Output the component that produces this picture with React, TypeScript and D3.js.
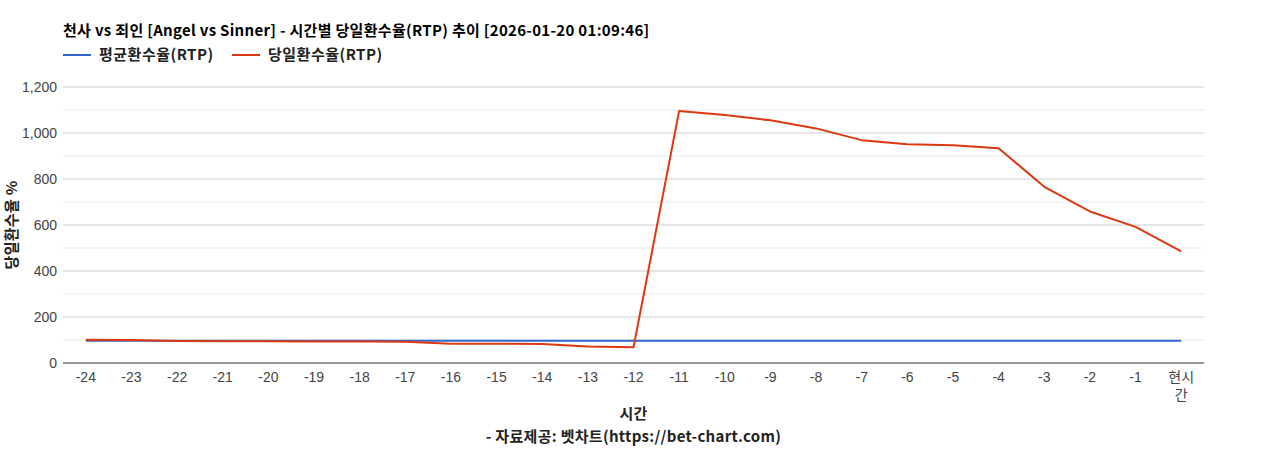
import * as d3 from "d3";

const hours = ["-24", "-23", "-22", "-21", "-20", "-19", "-18", "-17", "-16", "-15", "-14", "-13", "-12", "-11", "-10", "-9", "-8", "-7", "-6", "-5", "-4", "-3", "-2", "-1", "현시간"];
const avgRtp = [97, 97, 97, 97, 97, 97, 97, 97, 97, 97, 97, 97, 97, 97, 97, 97, 97, 97, 97, 97, 97, 97, 97, 97, 97];
const dayRtp = [101, 100, 96, 95, 95, 94, 94, 92, 84, 84, 83, 72, 68, 1096, 1078, 1055, 1020, 969, 951, 947, 934, 766, 659, 592, 485];
const yTicks = [0, 200, 400, 600, 800, 1000, 1200];
const minorTicks = [100, 300, 500, 700, 900, 1100];

const title = "천사 vs 죄인 [Angel vs Sinner] - 시간별 당일환수율(RTP) 추이 [2026-01-20 01:09:46]";
const seriesNames = ["평균환수율(RTP)", "당일환수율(RTP)"];
const colors = ["#3366cc", "#dc3912"];

const W = 1268;
const H = 450;
const left = 63;
const right = 1204;
const top = 87;
const bottom = 363;

const uiFont = "'Noto Sans CJK KR', 'Noto Sans', sans-serif";
const tickFont = "'Liberation Sans', Arial, 'Noto Sans CJK KR', sans-serif";

// wrap non-numeric labels into 2-char lines (like the original)
const wrapLabel = (s: string) => (isNaN(Number(s)) && s.length > 2 ? [s.slice(0, 2), s.slice(2)] : [s]);

export default function App() {
  const x = d3.scalePoint<string>().domain(hours).range([left, right]).padding(0.5);
  const y = d3.scaleLinear().domain([0, 1200]).range([bottom, top]);

  const line = d3
    .line<number>()
    .x((_, i) => x(hours[i]) as number)
    .y((d) => y(d));

  const series = [avgRtp, dayRtp];
  const boldText = { fontFamily: uiFont, fontWeight: "bold" as const, fontSize: 15, letterSpacing: 0.3 };

  return (
    <svg width={W} height={H} style={{ position: "absolute", left: 0, top: 0, background: "#fff" }}>
      <text x={63} y={36} {...boldText} fill="#000">
        {title}
      </text>

      {/* legend */}
      {seriesNames.map((name, i) => {
        const lx = i === 0 ? 63 : 232;
        return (
          <g key={name}>
            <line x1={lx} x2={lx + 28} y1={55} y2={55} stroke={colors[i]} strokeWidth={2} />
            <text x={lx + 36} y={60} {...boldText} letterSpacing={0.5} fill="#222">
              {name}
            </text>
          </g>
        );
      })}

      {/* gridlines */}
      {minorTicks.map((t) => (
        <line key={"m" + t} x1={left} x2={right} y1={y(t)} y2={y(t)} stroke="#ebebeb" strokeWidth={1} />
      ))}
      {yTicks.slice(1).map((t) => (
        <line key={"g" + t} x1={left} x2={right} y1={y(t)} y2={y(t)} stroke="#cccccc" strokeWidth={1} />
      ))}

      {/* y tick labels */}
      {yTicks.map((t) => (
        <text key={"t" + t} x={57} y={y(t) + 5} textAnchor="end" fontFamily={tickFont} fontSize={14} fill="#444">
          {d3.format(",")(t)}
        </text>
      ))}

      {/* series */}
      {series.map((s, i) => (
        <path key={i} d={line(s) as string} fill="none" stroke={colors[i]} strokeWidth={2} strokeLinejoin="round" />
      ))}

      {/* baseline */}
      <line x1={left} x2={right} y1={bottom} y2={bottom} stroke="#333" strokeWidth={1} />

      {/* x tick labels */}
      {hours.map((h) => (
        <text key={h} x={x(h)} y={382} textAnchor="middle" fontFamily={tickFont} fontSize={14} fill="#444">
          {wrapLabel(h).map((ln, k) => (
            <tspan key={k} x={x(h)} dy={k === 0 ? 0 : 18}>
              {ln}
            </tspan>
          ))}
        </text>
      ))}

      {/* axis titles */}
      <text transform={`translate(17, ${(top + bottom) / 2}) rotate(-90)`} textAnchor="middle" {...boldText} fill="#222">
        당일환수율 %
      </text>
      <text x={(left + right) / 2} y={419} textAnchor="middle" {...boldText} fill="#222">
        시간
      </text>
      <text x={(left + right) / 2} y={442} textAnchor="middle" {...boldText} fill="#222">
        - 자료제공: 벳차트(https://bet-chart.com)
      </text>
    </svg>
  );
}
